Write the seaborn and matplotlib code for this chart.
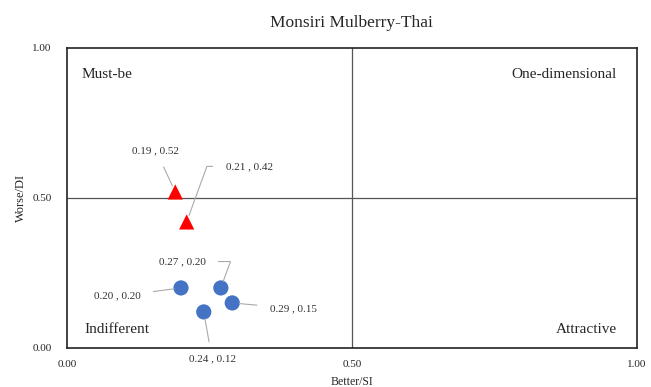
import pandas as pd
import seaborn as sns
import matplotlib.pyplot as plt

# Kano evaluation points
better_si = [0.19, 0.21, 0.20, 0.27, 0.29, 0.24]
worse_di = [0.52, 0.42, 0.20, 0.20, 0.15, 0.12]
category = ['Must-be', 'Must-be', 'Indifferent', 'Indifferent', 'Indifferent', 'Indifferent']
point_labels = ['0.19 , 0.52', '0.21 , 0.42', '0.20 , 0.20', '0.27 , 0.20', '0.29 , 0.15', '0.24 , 0.12']

# label offsets (points) and connector style for each point
label_offsets = [(-14, 30), (45, 40), (-46, -6), (-28, 19), (44, -4), (6, -34)]
label_conn = ['arc3', 'angle', 'arc3', 'angle', 'arc3', 'arc3']

quadrants = ['Must-be', 'One-dimensional', 'Indifferent', 'Attractive']


def main():
    df = pd.DataFrame({'x': better_si, 'y': worse_di, 'cat': category})

    sns.set_theme(style='white')
    plt.rcParams['font.family'] = ['Liberation Serif', 'DejaVu Serif']

    fig = plt.figure(figsize=(6.51, 3.87), dpi=100)
    ax = fig.add_axes([0.103, 0.101, 0.875, 0.775])

    sns.scatterplot(data=df, x='x', y='y', hue='cat', style='cat',
                    palette={'Must-be': '#ff0000', 'Indifferent': '#4472c4'},
                    markers={'Must-be': '^', 'Indifferent': 'o'},
                    s=120, edgecolor='none', legend=False, ax=ax, zorder=3)

    ax.axhline(0.5, color='#555555', lw=0.9, zorder=1)
    ax.axvline(0.5, color='#555555', lw=0.9, zorder=1)

    for i, txt in enumerate(point_labels):
        if label_conn[i] == 'angle':
            cs = 'angle,angleA=0,angleB=70,rad=0'
        else:
            cs = 'arc3'
        ax.annotate(txt, (better_si[i], worse_di[i]), xytext=label_offsets[i],
                    textcoords='offset points', ha='center', va='center',
                    fontsize=8, color='#333333',
                    arrowprops=dict(arrowstyle='-', color='#aaaaaa', lw=0.8,
                                    connectionstyle=cs, shrinkA=7, shrinkB=5))

    ax.text(0.025, 0.91, quadrants[0], fontsize=11, ha='left', va='center')
    ax.text(0.965, 0.91, quadrants[1], fontsize=11, ha='right', va='center')
    ax.text(0.03, 0.06, quadrants[2], fontsize=11, ha='left', va='center')
    ax.text(0.965, 0.06, quadrants[3], fontsize=11, ha='right', va='center')

    ax.set_xlim(0, 1)
    ax.set_ylim(0, 1)
    ax.set_xticks([0, 0.5, 1])
    ax.set_yticks([0, 0.5, 1])
    ax.set_xticklabels(['0.00', '0.50', '1.00'], fontsize=8)
    ax.set_yticklabels(['0.00', '0.50', '1.00'], fontsize=8)
    ax.tick_params(axis='x', length=0, pad=9)
    ax.tick_params(axis='y', length=0, pad=11)
    ax.set_xlabel('Better/SI', fontsize=8.5, labelpad=5)
    ax.set_ylabel('Worse/DI', fontsize=9, labelpad=4)
    ax.set_title('Monsiri Mulberry-Thai', fontsize=12.5, pad=15)

    for sp in ax.spines.values():
        sp.set_visible(True)
        sp.set_color('#222222')
        sp.set_linewidth(1.2)

    fig.savefig('out.png', dpi=100)


if __name__ == '__main__':
    main()
